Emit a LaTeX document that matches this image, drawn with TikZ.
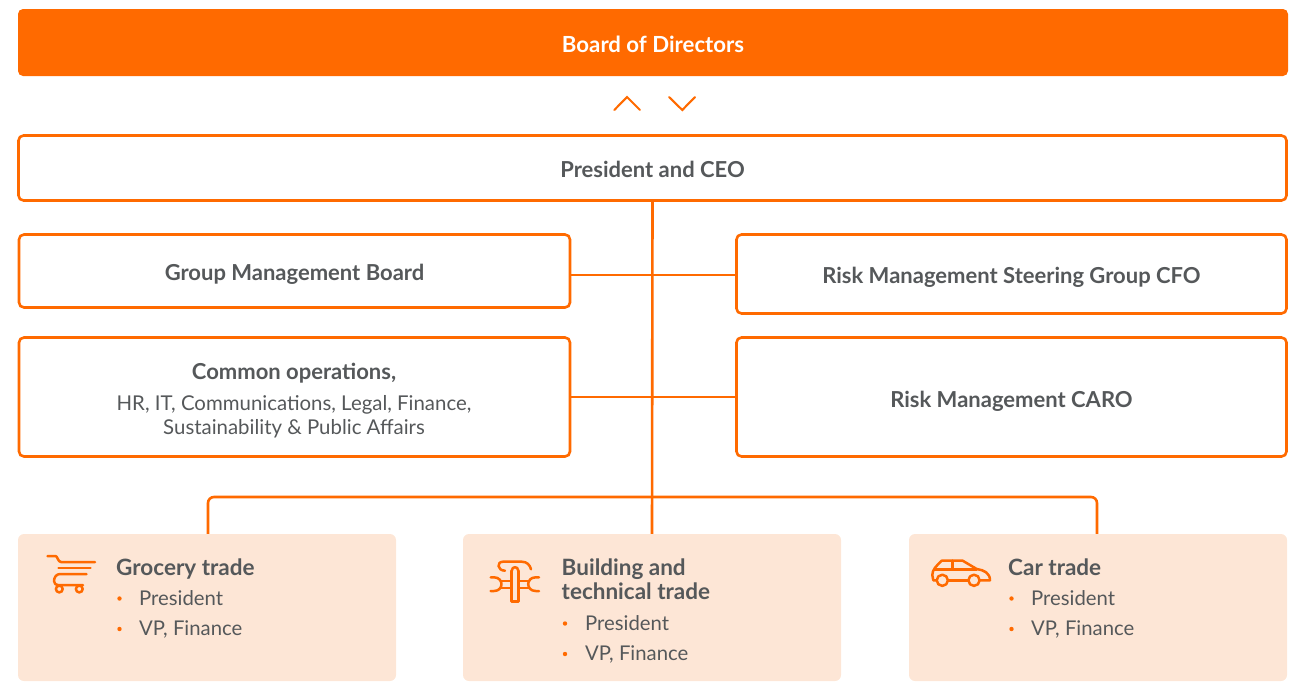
\documentclass[tikz,border=0pt]{standalone}
\usepackage{fontspec}
\setmainfont{Lato}
\definecolor{org}{HTML}{FF6A00}
\definecolor{txt}{HTML}{55585A}
\definecolor{panel}{HTML}{FDE6D6}
\tikzset{
  x=1pt,y=-1pt,
  box/.style={draw=org,line width=2.6pt,fill=white,rounded corners=5pt,inner sep=0pt,align=center,text=txt,font=\fontsize{22}{26}\selectfont\bfseries},
  topbox/.style={fill=org,rounded corners=5pt,inner sep=0pt,text=white,font=\fontsize{22.2}{26}\selectfont\bfseries},
  panelbox/.style={fill=panel,rounded corners=6pt,inner sep=0pt},
  wire/.style={draw=org,line width=2.6pt},
  icon/.style={draw=org,line width=2.5pt,line cap=round,line join=round},
  chev/.style={draw=org,line width=2.1pt,line cap=round,line join=miter},
  head/.style={anchor=base west,inner sep=0pt,text=txt,font=\fontsize{22.5}{26}\selectfont\bfseries},
  item/.style={anchor=base west,inner sep=0pt,text=txt,font=\fontsize{20.3}{24}\selectfont},
  dotmark/.style={circle,fill=org,inner sep=0pt,minimum size=4.4pt},
}
\newcommand{\dn}[2]{\raisebox{-#1pt}[\height][\depth]{#2}}
\begin{document}
\begin{tikzpicture}
\useasboundingbox (0,0) rectangle (1294,681);
% boxes
\node[topbox,minimum width=1270pt,minimum height=67pt] (board) at (653,42.5) {\dn{1.5}{Board of Directors}};
\node[box,minimum width=1268pt,minimum height=65pt] (ceo) at (652.5,168) {\dn{1.5}{President and CEO}};
\node[box,minimum width=551pt,minimum height=73pt] (gmb) at (294.5,271) {\dn{3.5}{Group Management Board}};
\node[box,minimum width=550pt,minimum height=79pt] (rmsg) at (1011.5,274) {\dn{3.5}{Risk Management Steering Group CFO}};
\node[box,minimum width=551pt,minimum height=119pt] (common) at (294.5,397) {};
\node[box,minimum width=550pt,minimum height=119pt] (caro) at (1011.5,397) {\dn{4.5}{Risk Management CARO}};
\node[panelbox,minimum width=378pt,minimum height=147pt] (grocery) at (207,607.5) {};
\node[panelbox,minimum width=378pt,minimum height=147pt] (building) at (652,607.5) {};
\node[panelbox,minimum width=378pt,minimum height=147pt] (car) at (1098,607.5) {};
% common text
\node[anchor=base,inner sep=0pt,text=txt,font=\fontsize{22}{26}\selectfont\bfseries] (commonhead) at (294,379.5) {Common operations,};
\node[anchor=base,inner sep=0pt,text=txt,font=\fontsize{20.4}{24}\selectfont] (commonone) at (294,410.5) {HR, IT, Communications, Legal, Finance,};
\node[anchor=base,inner sep=0pt,text=txt,font=\fontsize{20.4}{24}\selectfont] (commontwo) at (294,434.5) {Sustainability \& Public Affairs};
% connectors
\draw[wire] (ceo.south) -- (building.north);
\draw[wire] (gmb.east |- 0,275) -- (rmsg.west |- 0,275);
\draw[wire] (common.east) -- (caro.west);
\draw[wire,rounded corners=6pt] ([xshift=1pt]grocery.north) -- ([xshift=1pt]grocery.north |- 0,497) -- ([xshift=-1pt]car.north |- 0,497) -- ([xshift=-1pt]car.north);
% chevrons
\draw[chev] (614.3,110) -- (627,97) -- (640,110);
\draw[chev] (669,97) -- (682.3,110) -- (695,97);
% grocery
\node[head] (gh) at (116,575.5) {Grocery trade};
\node[dotmark] (gd1) at (119.5,598.5) {};
\node[item] (gi1) at (139,605.5) {President};
\node[dotmark] (gd2) at (119.5,629) {};
\node[item] (gi2) at (139,635.5) {VP, Finance};
% building
\node[head] (bh1) at (561.5,575.5) {Building and};
\node[head] (bh2) at (561.5,599.5) {technical trade};
\node[dotmark] (bd1) at (565,623.5) {};
\node[item] (bi1) at (585,630.5) {President};
\node[dotmark] (bd2) at (565,654) {};
\node[item] (bi2) at (585,660.5) {VP, Finance};
% car
\node[head] (ch) at (1008,575.5) {Car trade};
\node[dotmark] (cd1) at (1011.5,598.5) {};
\node[item] (ci1) at (1031,605.5) {President};
\node[dotmark] (cd2) at (1011.5,629) {};
\node[item] (ci2) at (1031,635.5) {VP, Finance};
% cart icon
\draw[icon] (47.5,556) -- (55.5,556) .. controls (57.5,556) and (58,562) .. (61,562) -- (95,562);
\draw[icon] (58.5,568) -- (90.5,568);
\draw[icon] (86.5,574) -- (60,574) .. controls (56,574) and (54,578) .. (54,581) .. controls (54,584) and (56,585) .. (58,585) -- (83,585);
\draw[icon] (59.3,589) circle (3.4);
\draw[icon] (79.3,589) circle (3.4);
% tool icon
\draw[icon] (505,570.7) .. controls (497,570.5) and (496.5,561.7) .. (503,561.7) -- (521.7,561.7) .. controls (527,561.7) and (530,565) .. (531,569.3);
\draw[icon] (511.7,570.7) .. controls (512,566) and (518,566) .. (518.3,570.7);
\draw[icon] (511.7,570.7) -- (511.7,601.7) -- (518.3,601.7) -- (518.3,570.7);
\draw[icon] (490.7,577.3) -- (494,577.3) .. controls (499,577.3) and (501.5,581) .. (501.5,584) .. controls (501.5,587.5) and (499,591) .. (494,591) -- (490.7,591);
\draw[icon] (539,577.3) -- (535.7,577.3) .. controls (530.7,577.3) and (528.2,581) .. (528.2,584) .. controls (528.2,587.5) and (530.7,591) .. (535.7,591) -- (539,591);
\draw[icon] (500.5,581) -- (511.7,581);
\draw[icon] (500.5,588) -- (511.7,588);
\draw[icon] (518.3,581) -- (529.2,581);
\draw[icon] (518.3,588) -- (529.2,588);
% car icon
\draw[icon] (936.7,580.3) -- (933.3,580.3) -- (932.3,575) .. controls (932.3,570) and (936,566) .. (941.7,560.7) -- (962.7,560.7) -- (976.7,569) .. controls (984,570) and (990,573) .. (990,580.3) -- (980,580.3);
\draw[icon] (948.3,580.3) -- (968.3,580.3);
\draw[icon] (934.5,569.3) -- (976.7,569.3);
\draw[icon] (952.7,560.7) -- (952.7,569.3);
\draw[icon] (942.3,580.3) circle (5.6);
\draw[icon] (974,580.3) circle (5.6);
\end{tikzpicture}
\end{document}
